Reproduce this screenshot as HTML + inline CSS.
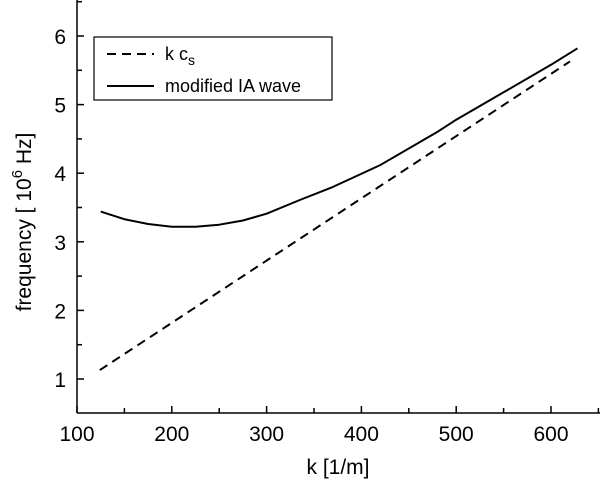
<!DOCTYPE html>
<html><head><meta charset="utf-8"><style>
html,body{margin:0;padding:0;background:#fff;}
svg{display:block;font-family:"Liberation Sans",Arial,sans-serif;}
</style></head><body>
<svg id="chart" width="600" height="480" viewBox="0 0 600 480" xmlns="http://www.w3.org/2000/svg">
<g id="axes"></g>
<g id="series"></g>
<g>
<rect x="94" y="37" width="238" height="63" fill="#fff" stroke="#000" stroke-width="1.2"/>
<line x1="107" y1="54" x2="154" y2="54" stroke="#000" stroke-width="2" stroke-dasharray="9,6"/>
<text x="165" y="60" font-size="18">k c<tspan font-size="14" dy="5">s</tspan></text>
<line x1="107" y1="86" x2="154" y2="86" stroke="#000" stroke-width="2"/>
<text x="165" y="92" font-size="18">modified IA wave</text>
</g>
<text x="338" y="474" font-size="21" text-anchor="middle">k  [1/m]</text>
<text transform="translate(31,222) rotate(-90)" font-size="21" text-anchor="middle">frequency  [ 10<tspan font-size="15" dy="-9">6</tspan><tspan dy="9"> Hz]</tspan></text>
</svg>
<script>
const xTicks=[100,200,300,400,500,600];
const yTicks=[1,2,3,4,5,6];
const kcsK=[124,620];
const kcsF=[1.13,5.63];
const iaK=[125,150,175,200,225,250,275,300,335,370,420,480,500,550,600,628];
const iaF=[3.44,3.33,3.26,3.22,3.22,3.25,3.31,3.41,3.61,3.8,4.12,4.6,4.78,5.18,5.58,5.82];
const NS="http://www.w3.org/2000/svg";
const X0=77,Y0=413;
function sx(k){return X0+(k-100)*0.948;}
function sy(f){return 379-(f-1)*68.6;}
function mk(t,a,p){const e=document.createElementNS(NS,t);for(const k in a)e.setAttribute(k,a[k]);p.appendChild(e);return e;}
const ax=document.getElementById('axes'),se=document.getElementById('series');
let l=mk('line',{x1:X0,y1:0,x2:X0,y2:Y0,stroke:'#000','stroke-width':1.5},ax);


l=mk('line',{x1:X0,y1:Y0,x2:600,y2:Y0,stroke:'#000','stroke-width':1.5},ax);


for(let i=0;i<xTicks.length;i++){
 const v=xTicks[i],x=sx(v);
 mk('line',{x1:x,y1:Y0,x2:x,y2:Y0-7,stroke:'#000','stroke-width':1.5},ax);
 const xm=sx(v+50);mk('line',{x1:xm,y1:Y0,x2:xm,y2:Y0-5,stroke:'#000','stroke-width':1.5},ax);
 const t=mk('text',{x:x,y:441,'font-size':21,'text-anchor':'middle'},ax);t.textContent=v;
 
 
}
for(let i=0;i<yTicks.length;i++){
 const v=yTicks[i],y=sy(v);
 mk('line',{x1:X0,y1:y,x2:X0+7,y2:y,stroke:'#000','stroke-width':1.5},ax);
 const ym=sy(v+0.5);mk('line',{x1:X0,y1:ym,x2:X0+5,y2:ym,stroke:'#000','stroke-width':1.5},ax);
 const t=mk('text',{x:66,y:y+8,'font-size':21,'text-anchor':'end'},ax);t.textContent=v;
 
 
}
function pts(K,F){return K.map((k,i)=>sx(k).toFixed(1)+','+sy(F[i]).toFixed(1)).join(' ');}
let p=mk('polyline',{points:pts(kcsK,kcsF),fill:'none',stroke:'#000','stroke-width':2,'stroke-dasharray':'9,6'},se);


p=mk('polyline',{points:pts(iaK,iaF),fill:'none',stroke:'#000','stroke-width':2,'stroke-linejoin':'round'},se);


</script>
</body></html>
